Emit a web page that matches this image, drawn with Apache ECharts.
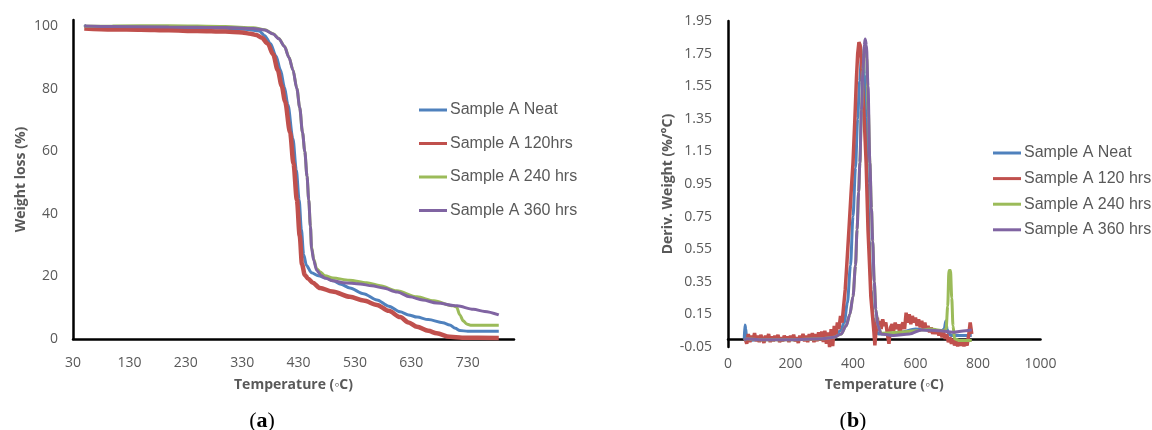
<!DOCTYPE html>
<html>
<head>
<meta charset="utf-8">
<script src="https://cdn.jsdelivr.net/npm/echarts@6/dist/echarts.min.js"></script>
<style>html,body{margin:0;padding:0;background:#fff}#c{width:1152px;height:430px}</style>
</head>
<body>
<div id="c"></div>
<script>
// ---------- Chart (a): TGA weight loss ----------
const namesA = ['Sample A Neat', 'Sample A 120hrs', 'Sample A 240 hrs', 'Sample A 360 hrs'];
const tgaNeat = [[50,100.4],[55,99.8],[100,99.7],[200,99.6],[300,99.4],[340,99.0],[360,98.5],[370,97],[380,94.5],[390,90.5],[398,86],[405,80.5],[411,75],[420,64],[426,54],[431,44.5],[435,35],[439,27],[444,23.5],[453,21.2],[465,20.2],[480,19.4],[491,18.6],[505,17.5],[521,16.3],[545,14.5],[569,12.5],[590,10.5],[610,8.7],[625,7.7],[640,7],[660,6.2],[686,5.2],[698,4.5],[708,3.4],[716,2.7],[730,2.5],[785,2.5]];
const tga120 = [[50,99.3],[100,99.0],[150,98.9],[200,98.7],[250,98.5],[300,98.3],[330,98.0],[345,97.6],[355,97.2],[365,96.3],[375,94.5],[385,91],[393,86],[400,81],[406,76],[415,66],[421,56],[427,44.5],[432,33],[436,24],[441,20.5],[447,19.3],[455,18],[468,16.3],[490,15.2],[521,13.5],[545,12.3],[569,10.9],[590,9],[610,7],[625,5.3],[640,3.9],[660,2.6],[675,1.8],[698,0.7],[720,0.4],[785,0.3]];
const tga240 = [[50,100.0],[100,100.1],[200,100.2],[300,99.9],[350,99.5],[370,98.9],[385,97.6],[395,96.1],[405,93.6],[413,90.1],[420,86.1],[427,80.1],[432,74],[437,66],[441,60],[445,52],[448,44.5],[451,36],[453,29.5],[457,25.5],[462,22.5],[468,21.5],[477,20.2],[491,19.5],[520,18.8],[551,18],[575,17],[604,15.4],[640,13.5],[670,12.2],[704,10.6],[710,10.3],[716,7.7],[722,5.8],[728,4.8],[735,4.4],[785,4.4]];
const tga360 = [[50,100.1],[100,99.9],[200,99.8],[300,99.6],[350,99.3],[370,98.8],[385,97.5],[395,96],[405,93.5],[413,90],[420,86],[427,80],[432,74],[437,66],[441,60],[445,52],[448,44.5],[451,36],[453,29],[457,25],[462,22],[470,20.3],[477,19.5],[491,18.6],[510,18],[539,17.6],[560,17],[580,16.3],[605,15],[627,13.5],[650,12.5],[675,11.5],[711,10.6],[740,9.5],[760,8.8],[785,7.7]];

// ---------- Chart (b): DTG derivative weight ----------
const namesB = ['Sample A Neat', 'Sample A 120 hrs', 'Sample A 240 hrs', 'Sample A 360 hrs'];
const dtgNeat = [[52,0.0],[54,0.085],[57,0.06],[59,0.01],[70,-0.01],[100,-0.005],[200,0.0],[300,0.005],[340,0.02],[360,0.05],[372,0.1],[382,0.22],[392,0.45],[400,0.75],[408,1.05],[415,1.35],[421,1.58],[427,1.72],[432,1.74],[437,1.62],[442,1.35],[447,0.95],[452,0.6],[458,0.3],[465,0.13],[472,0.06],[482,0.03],[500,0.03],[550,0.04],[600,0.06],[650,0.05],[680,0.045],[692,0.06],[697,0.11],[701,0.06],[706,0.03],[715,0.02],[780,0.02]];
const dtg120 = [[55,0.0],[60,-0.03],[65,0.03],[70,-0.02],[75,0.02],[80,-0.01],[85,0.035],[90,-0.015],[95,0.02],[100,-0.02],[105,0.025],[110,0.0],[115,-0.025],[120,0.02],[125,-0.01],[130,0.03],[135,-0.02],[140,0.015],[145,-0.015],[150,0.02],[155,-0.01],[160,0.025],[165,-0.02],[170,0.01],[175,-0.015],[180,0.02],[185,-0.01],[190,0.015],[195,-0.02],[200,0.02],[205,-0.01],[210,0.025],[215,-0.015],[220,0.01],[225,-0.025],[230,0.02],[235,-0.01],[240,0.03],[245,-0.015],[250,0.02],[255,-0.02],[260,0.03],[265,-0.01],[270,0.035],[275,-0.02],[280,0.03],[285,-0.015],[290,0.04],[295,-0.01],[300,0.045],[305,-0.02],[310,0.05],[315,-0.03],[320,0.04],[325,-0.05],[330,0.06],[335,-0.045],[340,0.08],[345,0.02],[350,0.1],[355,0.06],[360,0.14],[365,0.1],[370,0.2],[375,0.3],[380,0.45],[387,0.67],[394,0.9],[400,1.08],[406,1.35],[411,1.6],[415,1.75],[419,1.82],[423,1.8],[427,1.7],[432,1.5],[437,1.3],[442,1.08],[448,0.67],[453,0.45],[457,0.26],[462,0.15],[467,0.04],[470,-0.04],[474,0.06],[478,0.13],[482,0.05],[486,0.11],[490,0.06],[495,0.12],[500,0.08],[505,0.1],[510,0.03],[515,-0.03],[520,0.07],[525,0.09],[530,0.05],[535,0.1],[540,0.06],[545,0.09],[550,0.03],[555,0.08],[560,0.1],[565,0.06],[570,0.16],[575,0.1],[580,0.15],[585,0.09],[590,0.14],[595,0.1],[600,0.13],[605,0.08],[610,0.12],[615,0.07],[620,0.11],[625,0.06],[630,0.1],[635,0.05],[640,0.08],[645,0.04],[650,0.07],[655,0.03],[660,0.06],[665,0.03],[670,0.055],[675,0.02],[680,0.05],[685,0.01],[690,0.04],[695,0.0],[700,0.03],[705,-0.02],[710,0.01],[715,-0.03],[720,0.0],[725,-0.04],[730,-0.01],[735,-0.045],[740,-0.02],[745,-0.04],[750,-0.01],[755,-0.045],[760,-0.02],[765,-0.04],[770,0.02],[775,0.1],[778,0.06],[780,0.03]];
const dtg240 = [[52,-0.01],[60,0.0],[100,-0.005],[200,-0.005],[300,0.0],[340,0.01],[362,0.03],[378,0.08],[390,0.15],[400,0.26],[408,0.45],[413,0.67],[418,0.9],[422,1.08],[427,1.4],[432,1.65],[436,1.78],[440,1.8],[444,1.72],[449,1.4],[454,1.08],[459,0.8],[463,0.6],[468,0.35],[473,0.18],[480,0.08],[490,0.035],[550,0.04],[600,0.05],[650,0.06],[690,0.05],[698,0.06],[703,0.2],[707,0.42],[712,0.42],[716,0.25],[720,0.08],[725,0.0],[740,-0.01],[780,-0.01]];
const dtg360 = [[52,-0.01],[60,0.0],[100,-0.005],[200,-0.005],[300,0.0],[340,0.01],[362,0.03],[378,0.08],[390,0.15],[400,0.26],[408,0.45],[413,0.67],[418,0.9],[422,1.08],[427,1.4],[432,1.65],[436,1.8],[439,1.84],[443,1.8],[448,1.55],[454,1.08],[459,0.8],[463,0.6],[468,0.35],[473,0.18],[480,0.08],[490,0.03],[530,0.02],[580,0.03],[620,0.055],[680,0.05],[720,0.04],[760,0.05],[780,0.055]];

// tick label lists
const ticksAX = [30,130,230,330,430,530,630,730];
const ticksAY = [0,20,40,60,80,100];

const colors = ['#4F81BD', '#C0504D', '#9BBB59', '#8064A2'];
const gray = '#595959';
const tickFont = {color: gray, fontSize: 14, fontFamily: 'Open Sans'};
const nameFont = {color: gray, fontSize: 14, fontWeight: 'bold', fontFamily: 'Open Sans'};
const axisLineStyle = {color: '#000', width: 2.5};

const chart = echarts.init(document.getElementById('c'), null, {renderer: 'canvas'});

function mkSeries(name, data, xi, ci, width, smooth) {
  return {
    name: name, type: 'line', xAxisIndex: xi, yAxisIndex: xi, data: data,
    showSymbol: false, symbol: 'none', smooth: smooth, smoothMonotone: smooth ? 'x' : undefined,
    lineStyle: {color: colors[ci], width: width}, itemStyle: {color: colors[ci]},
    animation: false, z: 2 + ci
  };
}

const legendText = {color: gray, fontSize: 16, fontFamily: 'Liberation Sans', lineHeight: 20, padding: [0,0,0,-2]};

const option = {
  animation: false,
  color: colors,
  grid: [
    {left: 73, top: 20, width: 441, height: 319},
    {left: 728, top: 21, width: 312.5, height: 326}
  ],
  xAxis: [
    {
      type: 'value', gridIndex: 0, min: 30, max: 812, interval: 100,
      axisLine: {show: true, lineStyle: axisLineStyle, onZero: false},
      axisTick: {show: false}, splitLine: {show: false},
      axisLabel: Object.assign({margin: 17, formatter: v => (ticksAX.indexOf(Math.round(v)) >= 0 ? String(Math.round(v)) : '')}, tickFont),
      name: 'Temperature (◦C)', nameLocation: 'middle', nameGap: 39, nameTextStyle: nameFont
    },
    {
      type: 'value', gridIndex: 1, min: 0, max: 1000, interval: 200,
      axisLine: {show: true, lineStyle: axisLineStyle, onZero: true},
      axisTick: {show: false}, splitLine: {show: false},
      axisLabel: Object.assign({margin: 10, formatter: v => String(Math.round(v))}, tickFont),
      name: 'Temperature (◦C)', nameLocation: 'middle', nameGap: 31, nameTextStyle: nameFont
    }
  ],
  yAxis: [
    {
      type: 'value', gridIndex: 0, min: 0, max: 102, interval: 20,
      axisLine: {show: true, lineStyle: axisLineStyle, onZero: false},
      axisTick: {show: false}, splitLine: {show: false},
      axisLabel: Object.assign({margin: 15, formatter: v => (ticksAY.indexOf(Math.round(v)) >= 0 && Math.abs(v - Math.round(v)) < 1e-6 ? String(Math.round(v)) : '')}, tickFont),
      name: 'Weight loss (%)', nameLocation: 'middle', nameGap: 45, nameTextStyle: nameFont
    },
    {
      type: 'value', gridIndex: 1, min: -0.05, max: 1.95, interval: 0.2,
      axisLine: {show: true, lineStyle: axisLineStyle, onZero: false},
      axisTick: {show: false}, splitLine: {show: false},
      axisLabel: Object.assign({margin: 16, formatter: v => v.toFixed(2)}, tickFont),
      name: 'Deriv. Weight (%/°C)', nameLocation: 'middle', nameGap: 53, nameTextStyle: nameFont
    }
  ],
  legend: [
    {
      orient: 'vertical', left: 419, top: 100, padding: 0, itemWidth: 28, itemHeight: 3, itemGap: 13.5,
      icon: 'rect', data: namesA, selectedMode: false, textStyle: legendText
    },
    {
      orient: 'vertical', left: 993, top: 143, padding: 0, itemWidth: 28, itemHeight: 3, itemGap: 5.6,
      icon: 'rect', data: namesB, selectedMode: false, textStyle: legendText
    }
  ],
  graphic: [
    {type: 'text', x: 262, y: 421, style: {text: '({b|a})', textAlign: 'center', textVerticalAlign: 'middle', font: '22px "Liberation Serif"', fill: '#000', rich: {b: {fontWeight: 'bold', fontSize: 22, fontFamily: 'Liberation Serif', fill: '#000'}}}},
    {type: 'text', x: 853, y: 421, style: {text: '({b|b})', textAlign: 'center', textVerticalAlign: 'middle', font: '22px "Liberation Serif"', fill: '#000', rich: {b: {fontWeight: 'bold', fontSize: 22, fontFamily: 'Liberation Serif', fill: '#000'}}}}
  ],
  series: [
    mkSeries(namesA[0], tgaNeat, 0, 0, 3, 0.3),
    mkSeries(namesA[1], tga120, 0, 1, 4.5, 0.3),
    mkSeries(namesA[2], tga240, 0, 2, 3, 0.3),
    mkSeries(namesA[3], tga360, 0, 3, 3, 0.3),
    mkSeries(namesB[0], dtgNeat, 1, 0, 3, 0.3),
    mkSeries(namesB[1], dtg120, 1, 1, 3.5, false),
    mkSeries(namesB[2], dtg240, 1, 2, 3, 0.3),
    mkSeries(namesB[3], dtg360, 1, 3, 3, 0.3)
  ]
};
chart.setOption(option);
</script>
</body>
</html>
